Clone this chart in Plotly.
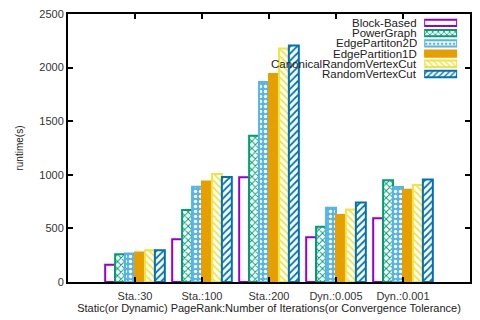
import plotly.graph_objects as go

# data
groups = ["Sta.:30", "Sta.:100", "Sta.:200", "Dyn.:0.005", "Dyn.:0.001"]
block_based = [160, 398, 977, 417, 594]
power_graph = [258, 671, 1365, 515, 950]
edge_2d = [266, 889, 1866, 692, 886]
edge_1d = [275, 937, 1940, 625, 861]
canonical_rvc = [297, 1008, 2178, 677, 904]
random_vc = [297, 980, 2206, 741, 956]

series_names = ["Block-Based", "PowerGraph", "EdgePartiton2D", "EdgePartition1D",
                "CanonicalRandomVertexCut", "RandomVertexCut"]
series_vals = [block_based, power_graph, edge_2d, edge_1d, canonical_rvc, random_vc]

# style per series: (edge colour, fill colour, pattern shape, pattern fg, pattern bg)
styles = [
    ("#9400D3", "white", "", None, None),
    ("#009E73", "#009E73", "x", "#009E73", "white"),
    ("#56B4E9", "#56B4E9", ".", "white", "#56B4E9"),
    ("#E69F00", "#E69F00", "", None, None),
    ("#F0E442", "#F0E442", "\\", "#F0E442", "white"),
    ("#0072B2", "#0072B2", "/", "#0072B2", "white"),
]

FONT = "Liberation Sans, Arial, sans-serif"

fig = go.Figure()
for name, vals, (lc, fc, shp, fg, bg) in zip(series_names, series_vals, styles):
    pat = dict(shape=shp)
    if shp:
        pat.update(fgcolor=fg, bgcolor=bg, size=5, solidity=0.35, fillmode="replace")
    fig.add_trace(go.Bar(
        x=groups, y=vals, name=name,
        marker=dict(color=fc, pattern=pat, line=dict(color=lc, width=2)),
        showlegend=False,
    ))

# hand-made key: swatches on a small overlay axis, text right-aligned to their left
fig.add_trace(go.Bar(
    x=[1] * len(series_names), y=list(range(len(series_names))),
    orientation="h", width=0.62, xaxis="x2", yaxis="y2", showlegend=False,
    hoverinfo="skip",
    marker=dict(
        color=[s[1] for s in styles],
        line=dict(color=[s[0] for s in styles], width=2),
        pattern=dict(
            shape=[s[2] for s in styles],
            fgcolor=[s[3] or s[1] for s in styles],
            bgcolor=[s[4] or s[1] for s in styles],
            size=4, solidity=0.35, fillmode="replace",
        ),
    ),
))

key_top, key_bot = 0.986, 0.757
row_h = (key_top - key_bot) / len(series_names)
annotations = []
for i, name in enumerate(series_names):
    annotations.append(dict(
        x=0.872, y=key_top - (i + 0.5) * row_h, xref="paper", yref="paper",
        text=name, showarrow=False, xanchor="right", yanchor="middle",
        font=dict(family=FONT, size=11.5, color="#222"),
    ))

axis_common = dict(
    showline=True, linecolor="black", linewidth=2, mirror="ticks",
    ticks="inside", ticklen=5, tickwidth=1.5, tickcolor="black",
    showgrid=False, zeroline=False,
    tickfont=dict(family=FONT, size=11, color="#333"),
)

fig.update_layout(
    width=480, height=320,
    margin=dict(l=68, r=8, t=12, b=36),
    paper_bgcolor="white", plot_bgcolor="white",
    barmode="group", bargap=0.11, bargroupgap=0,
    xaxis=dict(axis_common, range=[-1, 5], ticklabelstandoff=3,
               title=dict(text="Static(or Dynamic) PageRank:Number of Iterations(or Convergence Tolerance)",
                          font=dict(family=FONT, size=11, color="#222"), standoff=2)),
    yaxis=dict(axis_common, range=[0, 2500], dtick=500,
               title=dict(text="runtime(s)", font=dict(family=FONT, size=10, color="#222"), standoff=14)),
    xaxis2=dict(domain=[0.886, 0.968], range=[0, 1], visible=False, anchor="y2"),
    yaxis2=dict(domain=[key_bot, key_top], range=[len(series_names) - 0.5, -0.5],
                visible=False, anchor="x2"),
    annotations=annotations,
)

# drop the default 8px page margin so the figure sits at the window corner
fig.write_html("out.html", config={"displayModeBar": False},
               post_script="document.body.style.margin='0';")
